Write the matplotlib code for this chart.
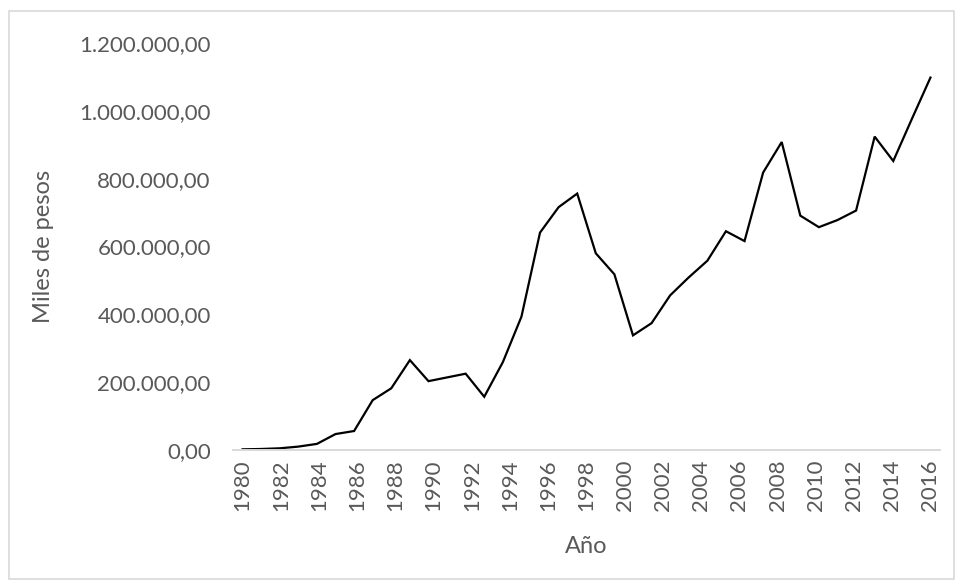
import matplotlib
matplotlib.use("Agg")
import matplotlib.pyplot as plt
import numpy as np
from matplotlib.patches import Rectangle
from matplotlib.ticker import FuncFormatter, MultipleLocator

plt.rcParams['font.family'] = ['Lato', 'DejaVu Sans']

# Category labels on the horizontal axis
years = list(range(1980, 2017))
year_labels = [str(y) if (y - 1980) % 2 == 0 else "" for y in years]

# Series values (miles de pesos)
valores = [2000, 3000, 5000, 10000, 18000, 47000, 56000, 147000, 182000, 265000,
           203000, 214000, 225000, 157000, 259000, 393000, 641000, 716000, 756000, 580000,
           518000, 338000, 374000, 456000, 509000, 558000, 645000, 616000, 818000, 908000,
           691000, 657000, 678000, 706000, 924000, 852000, 976000, 1098000]

TEXT = "#595959"
GRID = "#D9D9D9"

fig = plt.figure(figsize=(9.56, 5.81), dpi=100)
ax = fig.add_axes([233 / 956, 1 - 450 / 581, (940 - 233) / 956, (450 - 43) / 581])

# the series is spread evenly over the category span
x = np.linspace(0, len(years) - 1, len(valores))
ax.plot(x, valores, color="black", lw=1.6, solid_joinstyle="miter")

ax.set_xlim(-0.5, len(years) - 0.5)
ax.set_ylim(0, 1200000)
ax.yaxis.set_major_locator(MultipleLocator(200000))


def fmt_es(v, pos):
    s = f"{v:,.2f}"
    return s.replace(",", "X").replace(".", ",").replace("X", ".")


ax.yaxis.set_major_formatter(FuncFormatter(fmt_es))
ax.set_xticks(range(len(years)))
ax.set_xticklabels(year_labels, rotation=90)

for side in ["top", "right", "left"]:
    ax.spines[side].set_visible(False)
ax.spines["bottom"].set_color(GRID)
ax.spines["bottom"].set_linewidth(1.4)
ax.tick_params(axis="both", length=0, labelsize=16, colors=TEXT)
ax.tick_params(axis="y", pad=16)
ax.tick_params(axis="x", pad=7)

ax.set_ylabel("Miles de pesos", fontsize=17, color=TEXT, labelpad=18)
ax.set_xlabel("Año", fontsize=17, color=TEXT, labelpad=18)

# chart area frame
fig.patches.append(Rectangle((9 / 956, 1 - 579 / 581), (954 - 9) / 956, (579 - 11) / 581,
                             transform=fig.transFigure, fill=False,
                             edgecolor=GRID, lw=1.2))

fig.savefig("out.png", dpi=100)
